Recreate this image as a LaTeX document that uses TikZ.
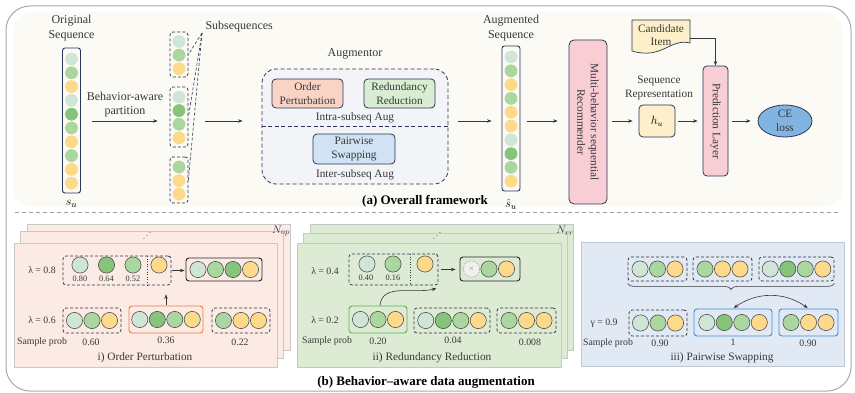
\documentclass[tikz,border=0pt]{standalone}
\usepackage{fontspec}
\setmainfont{Liberation Serif}
\usepackage{graphicx}
\usetikzlibrary{arrows.meta,calc,shapes.geometric,decorations.pathreplacing}
\definecolor{rand}{HTML}{A8A8B0}
\definecolor{creme}{HTML}{FBFAF4}
\definecolor{navy}{HTML}{2B3658}
\definecolor{schrift}{HTML}{383838}
\definecolor{hgruen}{HTML}{CFE6D6}
\definecolor{gruen}{HTML}{AAD6A0}
\definecolor{dgruen}{HTML}{86C47B}
\definecolor{gelb}{HTML}{FDD98B}
\definecolor{lachs}{HTML}{F9D3C4}
\definecolor{mint}{HTML}{D9EDD3}
\definecolor{hblau}{HTML}{D0E2F3}
\definecolor{rosa}{HTML}{F8CDD3}
\definecolor{sand}{HTML}{FDEFC9}
\definecolor{ceblau}{HTML}{82B4E1}
\definecolor{augfill}{HTML}{F3F4F7}
\definecolor{karteop}{HTML}{FCEBE4}
\definecolor{karterr}{HTML}{DDEBD5}
\definecolor{kartesw}{HTML}{E1E9F5}
\definecolor{kartenrand}{HTML}{C8C8C8}
\definecolor{swrand}{HTML}{BFC7D6}
\definecolor{orangerand}{HTML}{EE7B3C}
\definecolor{gruenrand}{HTML}{5EAE50}
\definecolor{blaurand}{HTML}{3F8DD2}
\tikzset{
  pfeil/.style={-{Stealth[length=4.5pt,width=3.5pt]},schrift,line width=0.6pt},
  txt/.style={font=\fontsize{11.3}{13.5}\selectfont,text=schrift,align=center},
  gross/.style={font=\fontsize{12}{14.5}\selectfont,text=schrift,align=center},
  klein/.style={font=\fontsize{9.8}{11}\selectfont,text=schrift},
  wert/.style={font=\fontsize{8.3}{10}\selectfont,text=schrift},
  titel/.style={font=\fontsize{13}{15}\selectfont\bfseries,text=black},
  seqbox/.style={draw=navy,rounded corners=2.5pt,line width=0.9pt,minimum width=18pt,minimum height=145pt,inner sep=0pt},
  subbox/.style={draw=navy,dash pattern=on 3pt off 2pt,rounded corners=3pt,line width=0.8pt,minimum width=18pt,inner sep=0pt},
  modul/.style={draw=navy,rounded corners=4pt,line width=0.8pt,txt,inner sep=0pt},
  karte/.style={draw=kartenrand,line width=0.6pt},
  gruppe/.style={draw=black!80,dash pattern=on 3pt off 2pt,rounded corners=3pt,line width=0.8pt,inner sep=0pt},
  gruppen/.style={gruppe,draw=navy},
  rahmen/.style={rounded corners=3pt,line width=0.9pt,inner sep=0pt},
  kugel/.style={draw=black!75,line width=0.5pt},
}
% vertical column of items: x, top y, step, colours
\newcommand{\spalte}[4]{\foreach \f [count=\i from 0] in {#4} \fill[\f] (#1,#2-\i*#3) circle (6.4pt);}
% horizontal row of items: left x, y, step, colours
\newcommand{\reihe}[4]{\foreach \f [count=\i from 0] in {#4} \filldraw[kugel,fill=\f] (#1+\i*#3,#2) circle (8.1pt);}

\begin{document}
\begin{tikzpicture}[x=1pt,y=1pt]
  \useasboundingbox (0,0) rectangle (855,-393);
  \draw[rand,line width=1pt,rounded corners=24pt] (6,-6) rectangle (851,-391);
  \fill[creme,rounded corners=20pt] (13,-12) rectangle (843,-207);
  \draw[gray!75,dash pattern=on 4pt off 3pt,line width=0.7pt] (15,-212) -- (840,-212);

  % (a) overall framework
  \node[gross] (origlab) at (71.5,-28) {Original\\Sequence};
  \node[seqbox] (orig) at (71.5,-120.5) {};
  \spalte{71.5}{-59}{13.8}{hgruen,gruen,gelb,hgruen,dgruen,gruen,gelb,gruen,gelb,gelb}
  \node[font=\fontsize{13}{15}\selectfont] (su) at (71.5,-204) {$s_u$};
  \coordinate (achse) at (0,-121);
  \node[gross] (partlab) at (125,-104.5) {Behavior-aware\\partition};

  \node[subbox,minimum height=45pt] (sub1) at (179,-54.5) {};
  \spalte{179}{-41.5}{13.6}{hgruen,gruen,gelb}
  \node[subbox,minimum height=60pt] (sub2) at (179,-117) {};
  \spalte{179}{-97}{13.6}{hgruen,dgruen,gruen,gelb}
  \node[subbox,minimum height=46pt] (sub3) at (179,-180) {};
  \spalte{179}{-167}{13.6}{gruen,gelb,gelb}
  \node[gross,anchor=west] (sublab) at (202,-27) {Subsequences};
  \coordinate (subspitze) at (202,-33);
  \foreach \s in {sub1,sub2,sub3}
    \draw[navy,dash pattern=on 3pt off 2pt,line width=0.6pt] (subspitze) -- (\s.east);

  \draw[pfeil,shorten <=11pt,shorten >=12pt] (orig.east |- achse) -- (sub2.west |- achse);

  \node[gross] (auglab) at (355,-54) {Augmentor};
  \node[draw=navy,dash pattern=on 4pt off 2.5pt,line width=0.8pt,rounded corners=14pt,fill=augfill,minimum width=186pt,minimum height=115pt] (aug) at (355,-126.5) {};
  \draw[navy,dash pattern=on 4pt off 2.5pt,line width=0.8pt] (aug.west) -- (aug.east);
  \node[modul,fill=lachs,minimum width=71pt,minimum height=29pt] (op) at (307.5,-93.5) {Order\\Perturbation};
  \node[modul,fill=mint,minimum width=71pt,minimum height=29pt] (rr) at (399.5,-93.5) {Redundancy\\Reduction};
  \node[txt] (intra) at (355,-117.5) {Intra-subseq Aug};
  \node[modul,fill=hblau,minimum width=82pt,minimum height=30pt] (ps) at (354,-149) {Pairwise\\Swapping};
  \node[txt] (inter) at (355,-175) {Inter-subseq Aug};
  \draw[pfeil,shorten <=17pt,shorten >=19pt] (sub2.east |- achse) -- (aug.west |- achse);

  \node[gross] (auglab2) at (511,-28) {Augmented\\Sequence};
  \node[seqbox] (augseq) at (511,-118.5) {};
  \spalte{511}{-57}{13.8}{hgruen,gruen,gelb,gruen,gelb,gelb,hgruen,dgruen,gruen,gelb}
  \node[font=\fontsize{13}{15}\selectfont] (shat) at (511,-204) {$\hat{s}_u$};
  \draw[pfeil,shorten <=10pt,shorten >=10pt] (aug.east |- achse) -- (augseq.west |- achse);

  \node[draw=navy,fill=rosa,rounded corners=5pt,line width=0.8pt,minimum width=38pt,minimum height=164pt] (rec) at (588,-122) {};
  \node[txt,rotate=-90] (rectext) at (rec.center) {Multi-behavior sequential\\Recommender};
  \draw[pfeil,shorten <=7pt,shorten >=11pt] (augseq.east |- achse) -- (rec.west |- achse);

  \node[txt] (replab) at (659,-88) {Sequence\\Representation};
  \node[draw=navy,fill=sand,rounded corners=4pt,line width=0.8pt,minimum width=36pt,minimum height=32pt,font=\fontsize{12}{14}\selectfont] (hu) at (657,-121) {$h_u$};
  \draw[pfeil,shorten <=5pt,shorten >=6pt] (rec.east |- achse) -- (hu.west);

  \node[draw=navy,fill=rosa,rounded corners=4pt,line width=0.8pt,minimum width=25pt,minimum height=110pt] (pred) at (715.5,-121) {};
  \node[txt,rotate=-90] (predtext) at (pred.center) {Prediction Layer};
  \draw[pfeil,shorten <=3pt,shorten >=5pt] (hu.east) -- (pred.west);

  \filldraw[draw=navy,fill=sand,line width=0.7pt] (632,-20) -- (690,-20) -- (690,-43) .. controls (670,-38) and (662,-60) .. (632,-51) -- cycle;
  \node[txt,minimum width=58pt,inner sep=0pt] (cand) at (661,-35) {Candidate\\Item};
  \draw[pfeil] ([yshift=-3pt]cand.east) -| (pred.north);

  \node[ellipse,draw=navy,fill=ceblau,line width=0.8pt,minimum width=54pt,minimum height=32pt,inner sep=0pt,txt] (ce) at (785,-121) {CE\\loss};
  \draw[pfeil,shorten <=4pt,shorten >=7pt] (pred.east) -- (ce.west);

  \node[titel] (titela) at (425,-201) {(a) Overall framework};

  % (b) i) order perturbation
  \draw[karte,fill=karteop] (27,-224) rectangle (290,-350);
  \draw[karte,fill=karteop] (20,-231) rectangle (283,-358);
  \draw[karte,fill=karteop] (14,-243) rectangle (277,-367);
  \node[wert] (dotsop) at (147,-233) {\reflectbox{$\ddots$}};
  \node[txt] (nop) at (281,-231) {$N_{op}$};

  \node[klein] (lop1) at (42,-270) {λ = 0.8};
  \node[gruppen,minimum width=108pt,minimum height=29pt] (op1) at (117,-270.5) {};
  \draw[navy,dotted,line width=0.6pt] (147,-256) -- (147,-285);
  \reihe{80}{-265}{26.5}{hgruen,dgruen,gruen}
  \reihe{159}{-265}{0}{gelb}
  \node[wert] (wop1) at (80,-279) {0.80};
  \node[wert] (wop2) at (106.5,-279) {0.64};
  \node[wert] (wop3) at (133,-279) {0.52};
  \node[rahmen,draw=black!85,minimum width=76pt,minimum height=23pt] (opr) at (224,-269.5) {};
  \reihe{198}{-269.5}{17.5}{hgruen,gruen,dgruen,gelb}
  \draw[pfeil,shorten <=1pt,shorten >=1pt] (op1.east) -- (op1.east -| opr.west);

  \node[klein] (lop2) at (42,-320) {λ = 0.6};
  \node[gruppe,minimum width=58pt,minimum height=25pt] (op2a) at (92,-320.5) {};
  \reihe{74.5}{-320.5}{17.5}{hgruen,gruen,gelb}
  \node[rahmen,draw=orangerand,minimum width=74pt,minimum height=27pt] (op2b) at (166,-319.5) {};
  \reihe{139.75}{-319.5}{17.5}{hgruen,dgruen,gruen,gelb}
  \node[gruppe,minimum width=58pt,minimum height=25pt] (op2c) at (241,-320.5) {};
  \reihe{223.5}{-320.5}{17.5}{gruen,gelb,gelb}
  \draw[pfeil,shorten <=1pt,shorten >=9pt] (op2b.north) -- (op2b.north |- op1.south);
  \node[klein] (spop) at (42,-342) {Sample prob};
  \node[klein] (pop1) at (91,-342) {0.60};
  \node[klein] (pop2) at (166,-340) {0.36};
  \node[klein] (pop3) at (240,-342) {0.22};
  \node[txt] (tiop) at (145,-358) {i) Order Perturbation};

  % (b) ii) redundancy reduction
  \draw[karte,fill=karterr] (310,-224) rectangle (573,-350);
  \draw[karte,fill=karterr] (303,-233) rectangle (567,-358);
  \draw[karte,fill=karterr] (297,-243) rectangle (561,-367);
  \node[wert] (dotsrr) at (437,-233) {\reflectbox{$\ddots$}};
  \node[txt] (nrr) at (565,-231) {$N_{rr}$};

  \node[klein] (lrr1) at (325,-271) {λ = 0.4};
  \node[gruppen,minimum width=89pt,minimum height=31pt] (rr1) at (393.5,-269.5) {};
  \draw[navy,dotted,line width=0.6pt] (410,-254) -- (410,-285);
  \reihe{367}{-264}{26}{hgruen,gruen}
  \reihe{425}{-264}{0}{gelb}
  \node[wert] (wrr1) at (366,-278) {0.40};
  \node[wert] (wrr2) at (393,-278) {0.16};
  \node[rahmen,draw=black!85,minimum width=60pt,minimum height=24pt] (rrr) at (490,-269) {};
  \filldraw[gray!75,dash pattern=on 1.5pt off 1.2pt,fill=gray!12,line width=0.5pt] (471.5,-269) circle (8.1pt);
  \node[font=\scriptsize,text=gray] (del) at (471.5,-269) {$\times$};
  \reihe{489}{-269}{17.5}{gruen,gelb}
  \draw[pfeil,shorten <=3pt,shorten >=4pt] (rr1.east) -- (rr1.east -| rrr.west);

  \node[klein] (lrr2) at (325,-320) {λ = 0.2};
  \node[rahmen,draw=gruenrand,minimum width=58pt,minimum height=27pt] (rr2a) at (378,-319.5) {};
  \reihe{360.5}{-319.5}{17.5}{hgruen,gruen,gelb}
  \node[gruppe,minimum width=76pt,minimum height=25pt] (rr2b) at (452,-320.5) {};
  \reihe{425.75}{-320.5}{17.5}{hgruen,dgruen,gruen,gelb}
  \node[gruppe,minimum width=59pt,minimum height=25pt] (rr2c) at (526.5,-320.5) {};
  \reihe{509}{-320.5}{17.5}{gruen,gelb,gelb}
  \draw[pfeil] ([xshift=2pt]rr2a.north) to[out=85,in=195] ([xshift=-2pt,yshift=-3pt]rr1.south east);
  \node[klein] (sprr) at (327,-341) {Sample prob};
  \node[klein] (prr1) at (378,-341) {0.20};
  \node[klein] (prr2) at (453,-340) {0.04};
  \node[klein] (prr3) at (530,-342) {0.008};
  \node[txt] (tirr) at (432,-358) {ii) Redundancy Reduction};

  % (b) iii) pairwise swapping
  \draw[karte,draw=swrand,fill=kartesw] (581,-242) rectangle (844,-366);
  \node[gruppe,minimum width=59pt,minimum height=24pt] (swa) at (657.5,-269) {};
  \reihe{640}{-269}{17.5}{hgruen,gruen,gelb}
  \node[gruppe,minimum width=59pt,minimum height=24pt] (swb) at (722.5,-269) {};
  \reihe{705}{-269}{17.5}{gruen,gelb,gelb}
  \node[gruppe,minimum width=75pt,minimum height=24pt] (swc) at (796.5,-269) {};
  \reihe{770.25}{-269}{17.5}{hgruen,dgruen,gruen,gelb}
  \draw[schrift,line width=0.6pt,decorate,decoration={brace,mirror,amplitude=6pt}] ([yshift=-2pt]swa.south west) -- ([yshift=-2pt]swc.south east);

  \node[klein] (lsw) at (604,-323) {γ = 0.9};
  \node[gruppe,minimum width=58pt,minimum height=26pt] (sw1) at (658,-323) {};
  \reihe{640.5}{-323}{17.5}{hgruen,gruen,gelb}
  \node[rahmen,draw=blaurand,minimum width=78pt,minimum height=27pt] (sw2) at (733,-322.5) {};
  \reihe{706.75}{-322.5}{17.5}{hgruen,dgruen,gruen,gelb}
  \node[rahmen,draw=blaurand,minimum width=59pt,minimum height=27pt] (sw3) at (808.5,-322.5) {};
  \reihe{791}{-322.5}{17.5}{gruen,gelb,gelb}
  \draw[pfeil,{Stealth[length=4.5pt,width=3.5pt]}-{Stealth[length=4.5pt,width=3.5pt]},shorten <=1pt,shorten >=1pt] (sw2.north) to[bend left=35] (sw3.north);
  \node[klein] (spsw) at (608,-343) {Sample prob};
  \node[klein] (psw1) at (660,-343) {0.90};
  \node[klein] (psw2) at (733,-342) {1};
  \node[klein] (psw3) at (808,-343) {0.90};
  \node[txt] (tisw) at (722,-358) {iii) Pairwise Swapping};

  \node[titel] (titelb) at (426,-382) {(b) Behavior–aware data augmentation};
\end{tikzpicture}
\end{document}
